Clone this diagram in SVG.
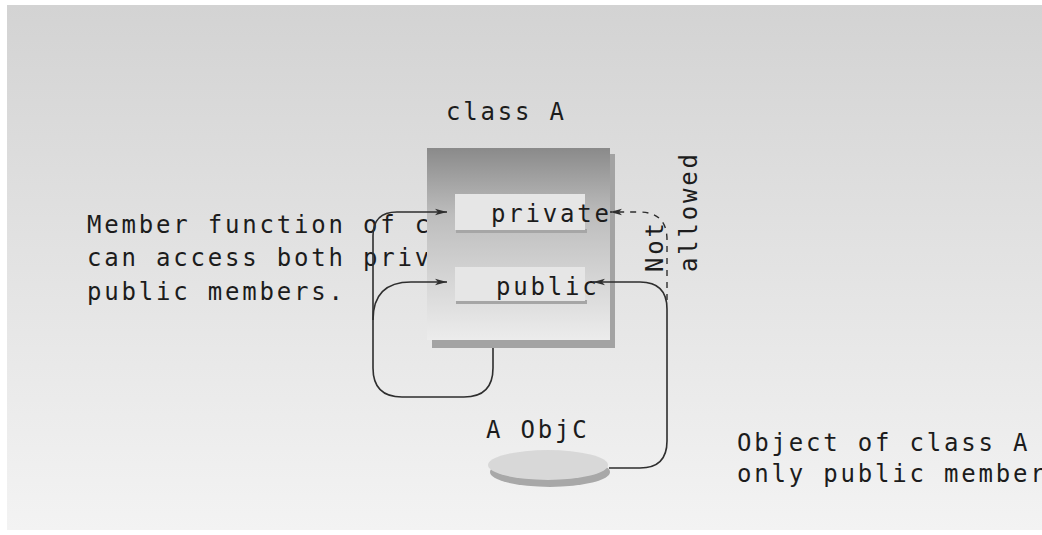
<svg xmlns="http://www.w3.org/2000/svg" width="1042" height="535" viewBox="0 0 1042 535">
<style>
.t{font-family:"DejaVu Sans Mono","Liberation Mono",monospace;font-size:24px;letter-spacing:2.8px;fill:#1c1c1c}
.c{fill:none;stroke:#2e2e2e;stroke-width:1.6}
.d{fill:none;stroke:#2e2e2e;stroke-width:1.4;stroke-dasharray:6 6}
.fld{fill:#e6e6e6}
.fsh{fill:#a6a6a6}
</style>
<defs>
<linearGradient id="bg" x1="0" y1="0" x2="0" y2="1">
<stop offset="0" stop-color="#d3d3d3"/>
<stop offset="1" stop-color="#f3f3f3"/>
</linearGradient>
<linearGradient id="box" x1="0" y1="0" x2="0" y2="1">
<stop offset="0" stop-color="#8a8a8a"/>
<stop offset="0.35" stop-color="#bdbdbd"/>
<stop offset="1" stop-color="#ececec"/>
</linearGradient>
<marker id="ah" viewBox="0 0 12 8" refX="12" refY="4" markerWidth="12" markerHeight="8" markerUnits="userSpaceOnUse" orient="auto">
<path d="M0,0.8 L12,4 L0,7.2 L3,4 Z" fill="#2e2e2e"/>
</marker>
</defs>
<rect width="1042" height="535" fill="#ffffff"/>
<rect x="7" y="5" width="1035" height="525" fill="url(#bg)"/>

<g id="desc-left">
<text class="t" x="87" y="233">Member function of c</text>
<text class="t" x="87" y="266">can access both priv</text>
<text class="t" x="87" y="300">public members.</text>
</g>

<g id="classA">
<text class="t" x="446" y="120">class A</text>
<rect x="432" y="154" width="183" height="194" fill="#a3a3a3"/>
<rect x="427" y="148" width="183" height="192" fill="url(#box)"/>
</g>

<g id="private">
<rect class="fsh" x="456" y="229" width="131" height="4"/>
<rect class="fld" x="455" y="194" width="130" height="36"/>
<text class="t" x="491" y="222">private</text>
</g>

<g id="public">
<rect class="fsh" x="456" y="300" width="131" height="4"/>
<rect class="fld" x="455" y="267" width="130" height="34"/>
<text class="t" x="496" y="295">public</text>
</g>

<g id="objC">
<text class="t" x="486" y="438">A ObjC</text>
<ellipse cx="550" cy="472" rx="60" ry="15" fill="#a8a8a8"/>
<ellipse cx="548" cy="465" rx="60" ry="15" fill="#d8d8d8"/>
</g>

<g id="desc-right">
<text class="t" x="737" y="451">Object of class A</text>
<text class="t" x="737" y="482">only public member</text>
</g>

<g id="connectors">
<path class="c" d="M493,348 L493,368 Q493,397 464,397 L402,397 Q373,397 373,368 L373,236 Q373,212 397,212 L447,212" marker-end="url(#ah)"/>
<path class="c" d="M373,320 Q373,282 411,282 L447,282" marker-end="url(#ah)"/>
<path class="c" d="M609,468 L640,468 Q667,468 667,441 L667,309 Q667,282 640,282 L593,282" marker-end="url(#ah)"/>
<path class="d" d="M667,300 L667,240 Q667,212 639,212 L610,212" marker-end="url(#ah)"/>
</g>

<g id="label-not-allowed">
<text class="t" transform="translate(663,272) rotate(-90)">Not</text>
<text class="t" transform="translate(697,272) rotate(-90)">allowed</text>
</g>
</svg>
